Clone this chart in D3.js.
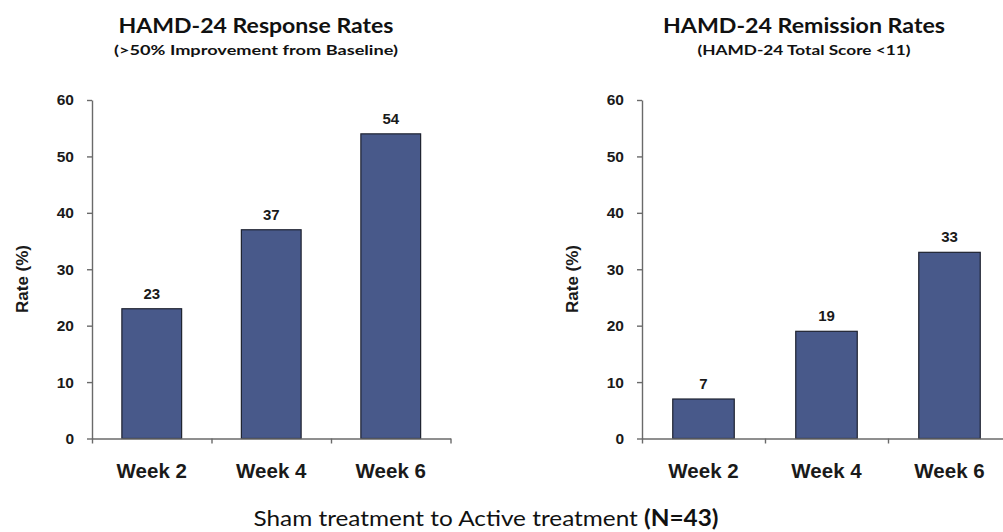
<!DOCTYPE html>
<html>
<head>
<meta charset="utf-8">
<script src="https://cdn.jsdelivr.net/npm/d3@7/dist/d3.min.js"></script>
<style>
  html, body { margin: 0; padding: 0; background: #fff; }
  svg { display: block; }
</style>
</head>
<body>
<svg id="chart" width="1003" height="532"></svg>
<script>
// ---- data ----
const categories = ["Week 2", "Week 4", "Week 6"];
const responseRates = [23, 37, 54];
const remissionRates = [7, 19, 33];
const yTicks = [0, 10, 20, 30, 40, 50, 60];
const titles = ["HAMD-24 Response Rates", "HAMD-24 Remission Rates"];
const subtitles = ["(>50% Improvement from Baseline)", "(HAMD-24 Total Score <11)"];
const yLabel = "Rate (%)";
const footerMain = "Sham treatment to Active treatment ";
const footerBold = "(N=43)";

const svg = d3.select("#chart");
const barFill = "#48598a";
const barStroke = "#1e2230";
const axisColor = "#6a6a6a";

const panels = [
  { values: responseRates, x0: 92, x1: 450.5, title: titles[0], sub: subtitles[0], titleW: 275, subW: 284, cx: 256, ylx: 22 },
  { values: remissionRates, x0: 642, x1: 1011, title: titles[1], sub: subtitles[1], titleW: 282, subW: 213, cx: 804, ylx: 572 }
];

const yTop = 100, yBottom = 438.5;

panels.forEach(p => {
  const g = svg.append("g");
  const x = d3.scaleBand().domain(categories).range([p.x0, p.x1]).paddingInner(0.5).paddingOuter(0.25);
  const y = d3.scaleLinear().domain([0, 60]).range([yBottom, yTop]);

  // title
  g.append("text")
    .attr("x", p.cx).attr("y", 33)
    .attr("text-anchor", "middle")
    .attr("font-family", "Lato, 'Open Sans', sans-serif")
    .attr("font-weight", "bold")
    .attr("font-size", 21)
    .attr("fill", "#111")
    .attr("textLength", p.titleW)
    .attr("lengthAdjust", "spacingAndGlyphs")
    .text(p.title);
  g.append("text")
    .attr("x", p.cx).attr("y", 55)
    .attr("text-anchor", "middle")
    .attr("font-family", "Lato, 'Open Sans', sans-serif")
    .attr("font-weight", "bold")
    .attr("font-size", 13.5)
    .attr("fill", "#111")
    .attr("textLength", p.subW)
    .attr("lengthAdjust", "spacingAndGlyphs")
    .text(p.sub);

  // bars
  g.selectAll("rect.bar").data(p.values).enter().append("rect")
    .attr("class", "bar")
    .attr("x", (d, i) => x(categories[i]))
    .attr("y", d => y(d))
    .attr("width", x.bandwidth())
    .attr("height", d => y(0) - y(d))
    .attr("fill", barFill)
    .attr("stroke", barStroke)
    .attr("stroke-width", 1.2);

  // value labels
  g.selectAll("text.val").data(p.values).enter().append("text")
    .attr("class", "val")
    .attr("x", (d, i) => x(categories[i]) + x.bandwidth() / 2)
    .attr("y", d => y(d) - 10)
    .attr("text-anchor", "middle")
    .attr("font-family", "'Liberation Sans', Arial, sans-serif")
    .attr("font-size", 15)
    .attr("font-weight", "bold")
    .attr("fill", "#1a1a1a")
    .text(d => d);

  // y axis
  const yAxis = d3.axisLeft(y).tickValues(yTicks).tickSize(5).tickPadding(13).tickSizeOuter(0);
  const ya = g.append("g").attr("transform", `translate(${p.x0},0)`).call(yAxis);
  ya.select(".domain").attr("stroke", axisColor).attr("stroke-width", 1.4);
  ya.selectAll(".tick line").attr("stroke", axisColor).attr("stroke-width", 1.4);
  ya.selectAll(".tick text")
    .attr("font-family", "'Liberation Sans', Arial, sans-serif")
    .attr("font-size", 15.5)
    .attr("font-weight", "bold")
    .attr("fill", "#1a1a1a");

  // x axis baseline with boundary ticks
  const xb = d3.scaleLinear().domain([0, categories.length]).range([p.x0, p.x0 + categories.length * x.step()]);
  const xAxis = d3.axisBottom(xb).tickValues(d3.range(categories.length + 1)).tickSize(5).tickFormat("").tickSizeOuter(0);
  const xa = g.append("g").attr("transform", `translate(0,${yBottom})`).call(xAxis);
  xa.select(".domain").attr("stroke", axisColor).attr("stroke-width", 1.4);
  xa.selectAll(".tick line").attr("stroke", axisColor).attr("stroke-width", 1.4);

  // category labels
  g.selectAll("text.cat").data(categories).enter().append("text")
    .attr("class", "cat")
    .attr("x", d => x(d) + x.bandwidth() / 2)
    .attr("y", 478)
    .attr("text-anchor", "middle")
    .attr("font-family", "'Liberation Sans', Arial, sans-serif")
    .attr("font-size", 20.5)
    .attr("font-weight", "bold")
    .attr("fill", "#1a1a1a")
    .text(d => d);

  // y label
  g.append("text")
    .attr("transform", `translate(${p.ylx + 6},279) rotate(-90)`)
    .attr("text-anchor", "middle")
    .attr("font-family", "'Liberation Sans', Arial, sans-serif")
    .attr("font-size", 17)
    .attr("font-weight", "bold")
    .attr("fill", "#1a1a1a")
    .text(yLabel);
});

// footer
const ft = svg.append("text")
  .attr("x", 486).attr("y", 526)
  .attr("text-anchor", "middle")
  .attr("font-family", "Lato, 'Open Sans', sans-serif")
  .attr("font-size", 22)
  .attr("fill", "#111")
  .attr("textLength", 465)
  .attr("lengthAdjust", "spacingAndGlyphs");
ft.append("tspan").text(footerMain);
ft.append("tspan").attr("font-weight", "bold").text(footerBold);
</script>
</body>
</html>
